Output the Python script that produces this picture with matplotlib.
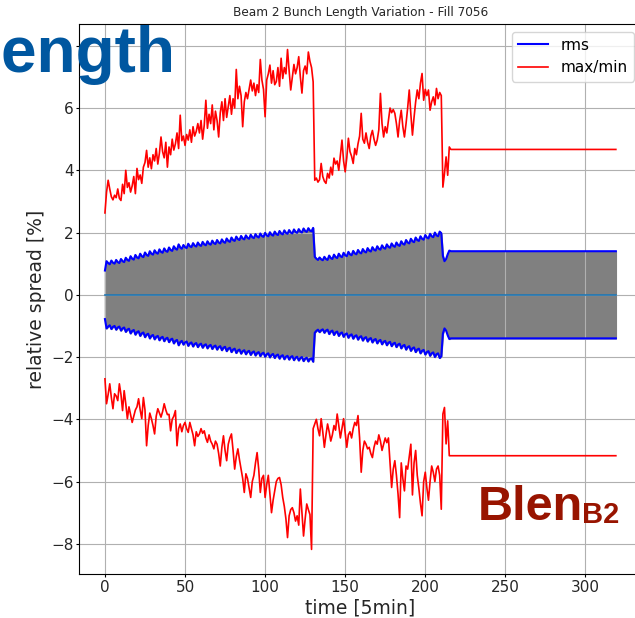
import numpy as np
import matplotlib
matplotlib.use('Agg')
import matplotlib.pyplot as plt

# rms spread [%], one value per 5 min step
rms_ramp1 = [0.78, 1.08, 1.02, 0.98, 1.10, 1.03, 1.00, 1.12, 1.05, 1.02,
             1.15, 1.08, 1.05, 1.19, 1.12, 1.09, 1.24, 1.16, 1.13, 1.28,
             1.20, 1.17, 1.32, 1.24, 1.21, 1.36, 1.28, 1.25, 1.40, 1.32,
             1.29, 1.43, 1.35, 1.32, 1.46, 1.38, 1.35, 1.49, 1.41, 1.38,
             1.52, 1.44, 1.41, 1.56, 1.48, 1.45, 1.62, 1.52, 1.48, 1.60,
             1.53, 1.50, 1.64, 1.56, 1.53, 1.66, 1.58, 1.55, 1.68, 1.60,
             1.57, 1.70, 1.62, 1.59, 1.72, 1.64, 1.61, 1.74, 1.66, 1.63,
             1.76, 1.68, 1.65, 1.78, 1.70, 1.67, 1.81, 1.73, 1.70, 1.84,
             1.76, 1.73, 1.87, 1.79, 1.76, 1.89, 1.81, 1.78, 1.91, 1.83,
             1.80, 1.93, 1.85, 1.82, 1.95, 1.87, 1.84, 1.97, 1.89, 1.86,
             1.99, 1.91, 1.88, 2.01, 1.93, 1.90, 2.03, 1.95, 1.92, 2.05,
             1.97, 1.94, 2.07, 1.99, 1.96, 2.08, 2.00, 1.97, 2.10, 2.02,
             1.99, 2.11, 2.03, 2.00, 2.13, 2.05, 2.02, 2.14, 2.06, 2.04,
             2.15]
rms_ramp2 = [1.22, 1.16, 1.12, 1.20, 1.14, 1.11, 1.22, 1.15, 1.12, 1.26,
             1.18, 1.15, 1.29, 1.21, 1.18, 1.32, 1.24, 1.21, 1.35, 1.27,
             1.24, 1.38, 1.30, 1.27, 1.41, 1.33, 1.30, 1.44, 1.36, 1.33,
             1.47, 1.39, 1.36, 1.50, 1.42, 1.39, 1.53, 1.45, 1.42, 1.56,
             1.48, 1.45, 1.59, 1.51, 1.48, 1.62, 1.54, 1.51, 1.65, 1.57,
             1.54, 1.68, 1.60, 1.57, 1.72, 1.64, 1.61, 1.76, 1.68, 1.65,
             1.80, 1.72, 1.69, 1.84, 1.76, 1.73, 1.88, 1.80, 1.77, 1.92,
             1.84, 1.81, 1.96, 1.88, 1.85, 2.00, 1.91, 1.88, 2.03, 1.98,
             1.25, 1.08, 1.15, 1.30, 1.42]
rms_flat = [1.40] * 104

# max spread [%]
max_ramp1 = [2.63, 3.30, 3.68, 3.40, 3.15, 3.05, 3.20, 3.12, 3.40, 3.10,
             3.03, 3.55, 3.25, 4.00, 3.45, 3.60, 3.30, 3.50, 3.80, 3.25,
             4.06, 3.70, 3.85, 3.58, 4.10, 4.25, 4.64, 4.10, 4.40, 4.05,
             4.50, 4.30, 4.70, 4.20, 4.55, 5.07, 4.60, 4.40, 4.90, 4.10,
             4.75, 4.50, 5.00, 4.65, 4.85, 5.20, 4.70, 5.77, 4.95, 5.10,
             4.80, 5.15, 4.97, 5.30, 4.90, 5.40, 5.10, 5.25, 5.50, 5.20,
             5.60, 5.00, 5.45, 6.25, 5.35, 5.80, 5.50, 6.10, 5.30, 5.90,
             5.60, 5.07, 5.85, 6.20, 5.60, 6.30, 5.70, 6.05, 6.40, 5.80,
             6.30, 6.00, 7.24, 6.30, 6.70, 6.40, 5.40, 6.20, 6.50, 6.30,
             6.60, 6.90, 6.55, 6.80, 6.40, 6.75, 6.50, 7.56, 6.90, 6.60,
             5.72, 6.90, 7.10, 7.38, 6.80, 7.20, 6.75, 6.85, 7.30, 6.70,
             7.60, 6.95, 7.30, 7.10, 7.88, 7.20, 6.58, 7.00, 7.40, 7.10,
             7.30, 7.65, 7.00, 6.48, 7.20, 7.35, 7.10, 7.80, 7.50, 7.30,
             6.84]
max_ramp2 = [3.68, 3.75, 3.62, 3.70, 4.22, 3.80, 3.65, 3.58, 3.90, 3.75,
             4.10, 3.85, 4.39, 4.20, 4.30, 4.00, 4.50, 4.97, 4.30, 3.95,
             4.40, 5.03, 4.60, 4.45, 4.22, 4.70, 4.50, 4.85, 5.10, 5.83,
             5.00, 4.87, 5.20, 4.90, 4.70, 5.10, 5.28, 5.00, 4.80, 4.97,
             5.30, 6.47, 5.50, 5.07, 5.40, 5.20, 5.60, 6.00, 5.85, 5.95,
             5.83, 5.50, 5.07, 5.60, 5.93, 5.40, 5.07, 5.50, 6.00, 6.58,
             5.80, 5.13, 5.70, 6.20, 6.58, 6.30, 6.80, 7.11, 6.25, 6.60,
             6.40, 6.58, 5.93, 6.20, 6.36, 6.10, 6.63, 6.30, 6.50, 6.40,
             3.46, 3.90, 4.43, 3.84, 4.75]
max_flat = [4.67] * 104

# min spread [%]
min_ramp1 = [-2.70, -3.50, -3.20, -2.86, -3.30, -3.66, -3.18, -3.25, -3.40, -2.86,
             -3.20, -3.72, -3.08, -3.50, -3.98, -3.60, -3.85, -4.10, -3.90, -3.70,
             -3.60, -3.34, -3.70, -3.98, -3.30, -3.70, -4.85, -4.20, -3.80, -3.98,
             -4.20, -4.47, -3.90, -3.66, -3.80, -3.93, -3.75, -3.50, -3.70, -3.85,
             -3.84, -4.37, -4.00, -3.90, -3.72, -4.85, -4.30, -4.15, -4.40, -4.20,
             -4.10, -4.30, -4.42, -4.10, -4.30, -4.50, -4.85, -4.40, -4.55, -4.47,
             -4.30, -4.45, -4.37, -4.60, -4.74, -4.50, -4.70, -4.80, -4.95, -4.70,
             -4.80, -5.10, -5.50, -4.90, -4.53, -5.00, -5.33, -4.80, -4.60, -4.47,
             -5.00, -5.60, -5.20, -4.95, -5.30, -5.60, -5.90, -6.35, -5.75, -5.90,
             -6.20, -6.51, -6.00, -5.80, -5.40, -5.07, -5.60, -6.35, -5.90, -5.80,
             -6.51, -6.10, -5.80, -6.40, -7.00, -6.60, -6.30, -6.00, -5.90, -5.87,
             -6.10, -6.51, -6.80, -7.20, -7.80, -7.10, -6.90, -6.84, -7.00, -7.27,
             -7.10, -7.40, -6.24, -7.00, -7.75, -7.20, -6.72, -6.90, -7.06, -8.18,
             -4.30]
min_ramp2 = [-4.15, -4.00, -4.30, -4.53, -3.98, -4.40, -4.90, -4.50, -4.15, -4.40,
             -4.70, -4.50, -4.20, -4.35, -3.83, -4.20, -4.60, -4.30, -3.98, -4.45,
             -4.90, -4.50, -4.40, -4.60, -4.30, -4.10, -4.20, -3.88, -4.60, -5.70,
             -5.00, -4.70, -4.80, -4.95, -4.90, -5.10, -5.23, -4.90, -4.70, -4.80,
             -4.50, -4.70, -5.00, -4.80, -4.60, -4.75, -4.60, -5.40, -6.19, -5.60,
             -5.33, -5.80, -6.40, -7.16, -5.40, -5.90, -6.30, -5.50, -5.60, -5.20,
             -4.80, -6.43, -5.40, -5.00, -5.80, -6.22, -6.70, -7.10, -6.00, -5.70,
             -6.20, -6.60, -6.00, -5.50, -5.70, -6.00, -5.60, -5.50, -5.80, -6.89,
             -3.83, -3.62, -4.79, -4.05, -5.17]
min_flat = [-5.17] * 104

# y tick labels; the "8" sits under the slide title, so it is left blank
yticks = [-8, -6, -4, -2, 0, 2, 4, 6, 8]
ytick_labels = ['\u22128', '\u22126', '\u22124', '\u22122', '0', '2', '4', '6', '']

rms = np.array(rms_ramp1 + rms_ramp2 + rms_flat)
vmax = np.array(max_ramp1 + max_ramp2 + max_flat)
vmin = np.array(min_ramp1 + min_ramp2 + min_flat)
t = np.arange(len(rms))

fig = plt.figure(figsize=(6.35, 6.18), dpi=100)
ax = fig.add_axes([79.4 / 635, 44 / 618, 562 / 635, 550 / 618])

ax.fill_between(t, -rms, rms, color='gray')
ax.plot(t, np.zeros(len(t)), color='C0', linewidth=1.2)
ax.plot(t, rms, color='b', linewidth=1.5, label='rms')
ax.plot(t, -rms, color='b', linewidth=1.5)
ax.plot(np.arange(len(vmax)), vmax, color='r', linewidth=1.2, label='max/min')
ax.plot(np.arange(len(vmin)), vmin, color='r', linewidth=1.2)

ax.set_xlim(-15.95, 334.95)
ax.set_ylim(-8.97, 8.70)
ax.set_yticks(yticks)
ax.set_yticklabels(ytick_labels)
ax.grid(True)
ax.tick_params(labelsize=11, length=2.5, pad=1.5, labelcolor='#262626')
ax.set_xlabel('time [5min]', fontsize=13.5, labelpad=2.5, color='#262626')
ax.set_ylabel('relative spread [%]', fontsize=13.5, color='#262626')
ax.set_title('Beam 2 Bunch Length Variation - Fill 7056', fontsize=8.7, color='#262626')
ax.legend(loc='upper right', fontsize=11)

# slide overlay labels
fig.text(176 / 635, 546 / 618, 'Length', ha='right', va='baseline',
         fontsize=46, fontweight='bold', family='Liberation Sans', color='#0057a0')
fig.text(478 / 635, 98 / 618, 'Blen', ha='left', va='baseline',
         fontsize=35, fontweight='bold', family='Liberation Sans', color='#981400')
fig.text(582 / 635, 95 / 618, 'B2', ha='left', va='baseline',
         fontsize=21, fontweight='bold', family='Liberation Sans', color='#981400')

fig.savefig('out.png', dpi=100)
